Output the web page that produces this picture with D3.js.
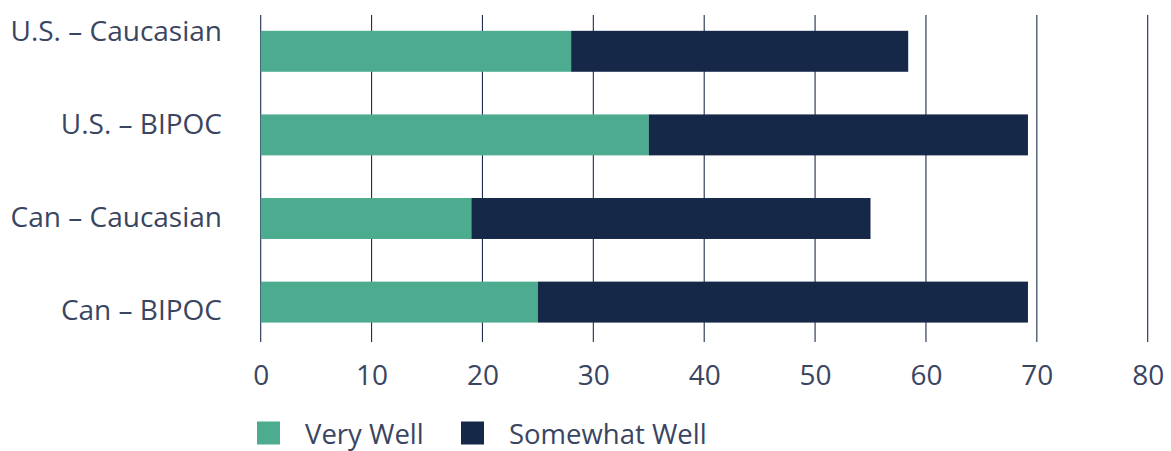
<!DOCTYPE html>
<html>
<head>
<meta charset="utf-8">
<script src="https://cdn.jsdelivr.net/npm/d3@7"></script>
<style>
  html, body { margin: 0; padding: 0; background: #ffffff; }
  svg { display: block; }
  text { font-family: "Open Sans", "Noto Sans", sans-serif; fill: #3a4561; }
</style>
</head>
<body>
<svg id="chart" width="1171" height="451"></svg>
<script>
// Groups, top to bottom
const categories = ["U.S. – Caucasian", "U.S. – BIPOC", "Can – Caucasian", "Can – BIPOC"];
// Share of respondents (%) per answer
const veryWell = [28, 35, 19, 25];
const somewhatWell = [30.4, 34.2, 36, 44.2];
const seriesNames = ["Very Well", "Somewhat Well"];
const seriesColors = ["#4dac8f", "#162848"];
const xTicks = [0, 10, 20, 30, 40, 50, 60, 70, 80];

const svg = d3.select("#chart");

const x = d3.scaleLinear().domain([0, 80]).range([260.7, 1147.7]);
const y = d3.scaleBand().domain(categories).range([9.5, 343.9])
  .paddingInner(0.51).paddingOuter(0.255);
// label baselines sit a little apart from the bar centres
const yLabel = d3.scalePoint().domain(categories).range([40.7, 320]);

const gridTop = 15, gridBottom = 342;

// vertical gridlines
svg.append("g").selectAll("line").data(xTicks).join("line")
  .attr("x1", d => x(d)).attr("x2", d => x(d))
  .attr("y1", gridTop).attr("y2", gridBottom)
  .attr("stroke", "#1f2e4d").attr("stroke-width", 1.1);

// stacked bars
const rows = categories.map((c, i) => ({ cat: c, vals: [veryWell[i], somewhatWell[i]] }));
const stacked = d3.stack().keys([0, 1]).value((d, k) => d.vals[k])(rows);

svg.append("g").selectAll("g").data(stacked).join("g")
  .attr("fill", (d, i) => seriesColors[i])
  .selectAll("rect").data(d => d).join("rect")
  .attr("x", d => x(d[0]))
  .attr("width", d => x(d[1]) - x(d[0]))
  .attr("y", d => y(d.data.cat))
  .attr("height", y.bandwidth());

// category labels
svg.append("g").selectAll("text").data(categories).join("text")
  .attr("x", 222)
  .attr("y", d => yLabel(d))
  .attr("text-anchor", "end")
  .attr("font-size", 28)
  .text(d => d);

// x axis tick labels
const xAxis = d3.axisBottom(x).tickValues(xTicks).tickSize(0).tickPadding(0);
const gx = svg.append("g").attr("transform", "translate(0,385)").call(xAxis);
gx.select(".domain").remove();
gx.selectAll("text")
  .attr("dy", 0).attr("y", 0)
  .attr("font-size", 28)
  .attr("fill", "#3a4561")
  .style("font-family", "\"Open Sans\", \"Noto Sans\", sans-serif");

// legend
const legendX = [257, 461];
const leg = svg.append("g").selectAll("g").data(seriesNames).join("g")
  .attr("transform", (d, i) => `translate(${legendX[i]},421.5)`);
leg.append("rect").attr("width", 23).attr("height", 23)
  .attr("fill", (d, i) => seriesColors[i]);
leg.append("text").attr("x", 48).attr("y", 22.5)
  .attr("font-size", 27.5).text(d => d);
</script>
</body>
</html>
